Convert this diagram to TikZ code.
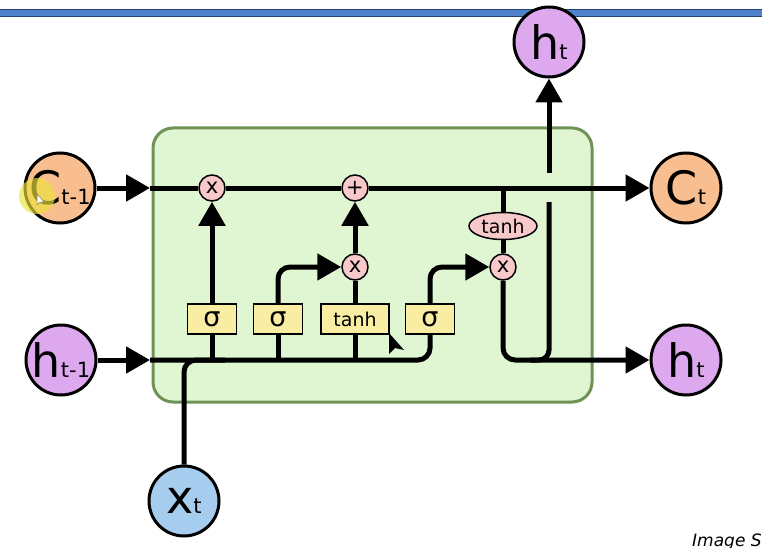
\documentclass[tikz,border=0pt]{standalone}
\usepackage{fontspec}
\setmainfont{DejaVu Sans}
\usetikzlibrary{arrows.meta,shapes.geometric}
\definecolor{corange}{HTML}{F9BE8F}
\definecolor{cpurple}{HTML}{DDA8EE}
\definecolor{cblue}{HTML}{A6CDEE}
\definecolor{cpink}{HTML}{F8C9CB}
\definecolor{cyel}{HTML}{F8EDA3}
\definecolor{cgreen}{HTML}{E0F5D2}
\definecolor{cgreenb}{HTML}{6F9257}
\definecolor{barblue}{HTML}{4F84CC}
\definecolor{bardark}{HTML}{24426F}
\definecolor{hilite}{HTML}{EEE23A}
\newcommand\stxt[2]{{\fontsize{46}{46}\selectfont #1}{\fontsize{21}{21}\selectfont #2}}
\begin{document}
\begin{tikzpicture}[x=1pt,y=-1pt,
  state/.style={circle, draw=black, line width=3pt, minimum size=70pt, inner sep=0pt},
  gate/.style={rectangle, draw=black, fill=cyel, line width=1.5pt, minimum height=30pt, inner sep=0pt, font=\fontsize{27}{27}\selectfont},
  tgate/.style={gate, font=\fontsize{19}{19}\selectfont},
  op/.style={circle, draw=black, fill=cpink, line width=1.5pt, minimum size=26pt, inner sep=0pt, font=\fontsize{21}{21}\selectfont},
  flow/.style={line width=5pt},
  arr/.style={flow, -{Triangle[length=24pt,width=26pt]}}]
\useasboundingbox (0,0) rectangle (762,548);
\fill[white] (0,0) rectangle (762,548);
% top bar
\draw[draw=bardark, fill=barblue, line width=1pt] (-2,10) rectangle (764,16.5);
% cell box
\draw[draw=cgreenb, fill=cgreen, line width=3pt, rounded corners=20pt] (153,128) rectangle (592,402);
% outer states
\node[state, fill=corange, label={center:{\stxt{C}{t-1}}}] (cprev) at (60,188) {};
\node[state, fill=cpurple, label={center:{\stxt{h}{t-1}}}] (hprev) at (61,360) {};
\node[state, fill=cblue, label={center:{\stxt{x}{t}}}] (xt) at (184,501) {};
\node[state, fill=cpurple, label={center:{\stxt{h}{t}}}] (htop) at (549,42) {};
\node[state, fill=corange, label={center:{\stxt{C}{t}}}] (ct) at (686,188) {};
\node[state, fill=cpurple, label={center:{\stxt{h}{t}}}] (ht) at (686,360) {};
% gates
\node[gate, minimum width=49pt] (g1) at (212,319) {σ};
\node[gate, minimum width=49pt] (g2) at (278,319) {σ};
\node[tgate, minimum width=68pt] (g3) at (355,319) {tanh};
\node[gate, minimum width=49pt] (g4) at (430,319) {σ};
% pointwise ops
\node[op] (m1) at (212,188) {x};
\node[op] (p) at (355,188) {+};
\node[op] (m2) at (355,267) {x};
\node[op] (m3) at (503,267) {x};
\node[ellipse, draw=black, fill=cpink, line width=1.5pt, minimum width=68pt, minimum height=27pt, inner sep=0pt, font=\fontsize{19}{19}\selectfont] (th) at (503,226) {tanh};
% coordinates
\coordinate (cin) at (150,188);
\coordinate (hin) at (150,360);
\coordinate (tap) at (503,188);
\coordinate (xjoin) at (225,360);
\coordinate (upbot) at (549,202);
\coordinate (uptop) at (549,173);
\coordinate (upjoin) at (530,360);
% cell state line
\draw[arr] (cprev) -- (cin);
\draw[flow] (cin) -- (m1);
\draw[flow] (m1) -- (p);
\draw[arr] (p) -- (ct);
\draw[flow] (tap) -- (th);
\draw[flow] (th) -- (m3);
\draw[arr, rounded corners=12pt] (m3.south) |- (ht.west);
\draw[flow, rounded corners=10pt] (upbot) |- (upjoin);
\draw[arr] (uptop) -- (htop);
% hidden input line
\draw[arr] (hprev) -- (hin);
\draw[flow, rounded corners=12pt] (hin) -| (g4.south);
\draw[flow, rounded corners=12pt] (xt.north) |- (xjoin);
\draw[flow] (g1.south) -- (g1.south |- hin);
\draw[flow] (g2.south) -- (g2.south |- hin);
\draw[flow] (g3.south) -- (g3.south |- hin);
% gate outputs
\draw[arr] (g1) -- (m1);
\draw[arr, rounded corners=12pt] (g2.north) |- (m2.west);
\draw[flow] (g3) -- (m2);
\draw[arr] (m2) -- (p);
\draw[arr, rounded corners=12pt] (g4.north) |- (m3.west);
% screen artefacts
\fill[hilite, opacity=0.65] (37,196) circle (18pt);
\filldraw[fill=white, draw=gray, line width=0.5pt] (37,194) -- (37,205) -- (40,202) -- (44,202) -- cycle;
\fill[black] (389,333) -- (389,354) -- (395,348) -- (404,350) -- cycle;
\node[anchor=base west, inner sep=0pt, font=\fontsize{17}{17}\selectfont\itshape] (cap) at (692,546) {Image S};
\end{tikzpicture}
\end{document}
